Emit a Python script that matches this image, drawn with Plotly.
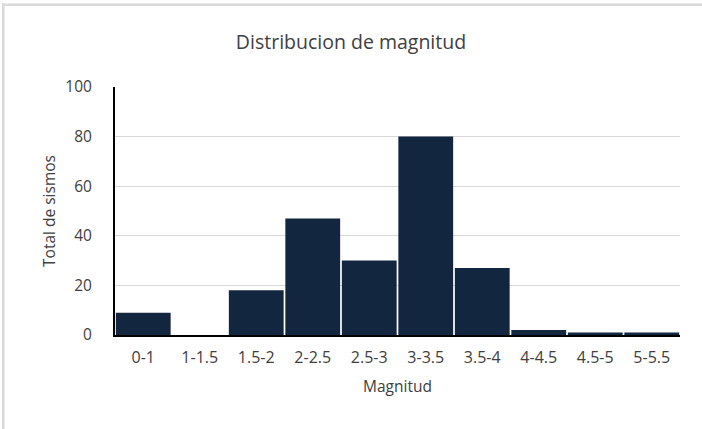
import plotly.graph_objects as go

categories = ["0-1", "1-1.5", "1.5-2", "2-2.5", "2.5-3", "3-3.5", "3.5-4", "4-4.5", "4.5-5", "5-5.5"]
values = [9, 0, 18, 47, 30, 80, 27, 2, 1, 1]
y_ticks = [0, 20, 40, 60, 80, 100]

W, H = 702, 429
L, R, T, B = 115, 22, 87, 94
FONT = "'Open Sans', sans-serif"
TXT = "#404040"
BORDER = "#D9D9D9"

fig = go.Figure(go.Bar(
    x=categories, y=values,
    marker=dict(color="#13263F", line=dict(width=0)),
))

pw = W - L - R
ph = H - T - B


def px_x(p):
    return (p - L) / pw


def px_y(p):
    return (H - B - p) / ph


fig.update_layout(
    width=W, height=H,
    margin=dict(l=L, r=R, t=T, b=B, pad=0),
    paper_bgcolor="white", plot_bgcolor="white",
    bargap=0.03,
    showlegend=False,
    font=dict(family=FONT, color=TXT, size=14),
    title=dict(text="Distribucion de magnitud", x=0.5, xanchor="center",
               y=1 - 42 / H, yanchor="middle",
               font=dict(family=FONT, size=19.5, color=TXT)),
    xaxis=dict(
        title=dict(text="Magnitud", font=dict(size=15.5, color=TXT), standoff=14),
        showline=True, linecolor="black", linewidth=2,
        ticks="", tickfont=dict(size=16, color=TXT), ticklabelstandoff=7,
        showgrid=False,
    ),
    yaxis=dict(
        title=dict(text="Total de sismos", font=dict(size=15.5, color=TXT), standoff=6),
        range=[0, 100], tickvals=y_ticks,
        showline=True, linecolor="black", linewidth=2,
        ticks="", tickfont=dict(size=15.5, color=TXT), ticklabelstandoff=18,
        gridcolor="#D9D9D9", gridwidth=1,
        zeroline=False,
    ),
    shapes=[
        # top border strip of the chart frame
        dict(type="rect", xref="paper", yref="paper",
             x0=px_x(2), x1=px_x(W), y0=px_y(6), y1=px_y(3.5),
             line=dict(width=0), fillcolor=BORDER, layer="above"),
        # left border strip of the chart frame
        dict(type="rect", xref="paper", yref="paper",
             x0=px_x(2), x1=px_x(4.5), y0=px_y(H), y1=px_y(3.5),
             line=dict(width=0), fillcolor=BORDER, layer="above"),
    ],
)

fig.write_html("out.html", config={"displayModeBar": False},
               post_script="document.body.style.margin='0';document.body.style.overflow='hidden';")
